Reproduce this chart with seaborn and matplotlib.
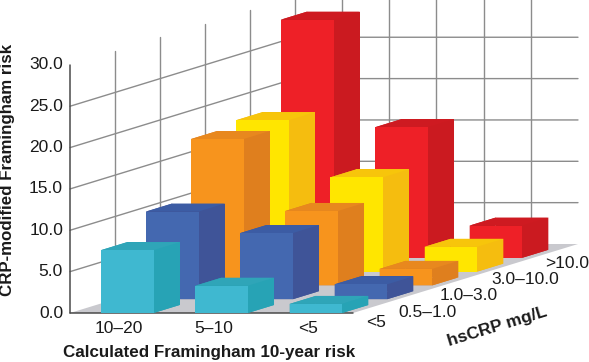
import numpy as np
import matplotlib
matplotlib.use("Agg")
import matplotlib.pyplot as plt
import seaborn as sns
from mpl_toolkits.mplot3d.art3d import Poly3DCollection

# ---- data ----
framingham_labels = ["10–20", "5–10", "<5"]
hscrp_labels = ["<5", "0.5–1.0", "1.0–3.0", "3.0–10.0", ">10.0"]
y_ticks = [0, 5, 10, 15, 20, 25, 30]
risk_lt5 = [7.6, 3.3, 1.1]
risk_05_10 = [10.6, 8.0, 1.8]
risk_10_30 = [17.7, 9.0, 2.0]
risk_30_100 = [18.3, 11.4, 3.0]
risk_gt10 = [28.8, 15.8, 3.9]
series = [risk_lt5, risk_05_10, risk_10_30, risk_30_100, risk_gt10]

# front, side, top colours per hsCRP series
front = ["#3FB8D0", "#4468B0", "#F7941D", "#FFE600", "#EE2027"]
side = ["#27A3B5", "#3F5498", "#DF7F1E", "#F5BD0F", "#CB1A20"]
top = ["#2FA5B8", "#3C5CA4", "#E8881E", "#F7C50B", "#CE1A21"]

W, H = 589, 362
sns.set_theme(style="white", font="Liberation Sans")
fig = plt.figure(figsize=(W / 100, H / 100), dpi=100, facecolor="white")
# square 3-D axes, as wide as the figure and centred on it
ax = fig.add_axes([0, (H - W) / 2 / H, 1, W / H], projection="3d")
ax.set_proj_type("ortho")
ax.set_xticks([])
ax.set_yticks([])
ax.set_zticks([])
ax.set_axis_off()
ax.computed_zorder = False


def oblique_proj():
    """Cabinet projection of (column, row, value) into the axes' 2-D view."""
    (x0, y0), (x1, y1) = ax.viewLim.get_points()
    sx = (x1 - x0) / W
    sy = (y1 - y0) / W
    # pixel position with the square axes centred vertically
    ox, oy = 70.0, 313.0 + (W - H) / 2
    return np.array([
        [94.33 * sx, 45.0 * sx, 0.0, x0 + ox * sx],
        [0.0, 13.8 * sy, 8.27 * sy, y1 - oy * sy],
        [-0.05, 1.0, -0.02, 0.0],
        [0.0, 0.0, 0.0, 1.0],
    ])


ax.get_proj = oblique_proj


def label3d(c, r, z, text, **kw):
    """Place a flat text at a projected (column, row, value) position."""
    X, Y, _, _ = oblique_proj() @ np.array([c, r, z, 1.0])
    ax.text2D(X, Y, text, transform=ax.transData, ha=kw.pop("ha", "center"), va="center",
              fontsize=12.5, color="#1A1A1A", zorder=30, **kw)


n_cols, n_rows = len(framingham_labels), len(hscrp_labels)
z_max = y_ticks[-1]

# floor
floor = Poly3DCollection([[(0, 0, 0), (n_cols, 0, 0), (n_cols, n_rows, 0), (0, n_rows, 0)]],
                         facecolor="#C9C9CE", edgecolor="none", zorder=1)
ax.add_collection3d(floor)

# wall grid
grid_kw = dict(color="#8C8C8C", lw=1.0, zorder=2)
for z in y_ticks[1:-1]:
    ax.plot([0, 0, n_cols], [0, n_rows, n_rows], [z, z, z], **grid_kw)
for r in range(1, n_rows + 1):
    ax.plot([0, 0], [r, r], [0, z_max], **grid_kw)
for c in np.arange(0.5, n_cols, 0.5):
    ax.plot([c, c], [n_rows, n_rows], [0, z_max], **grid_kw)

# axis lines
axis_kw = dict(color="#4A4A4A", lw=1.1, zorder=3)
ax.plot([0, 0], [0, 0], [0, z_max], **axis_kw)
ax.plot([0, n_cols], [0, 0], [0, 0], **axis_kw)

# bars, back row first
bar_w, bar_d, bar_off = 0.557, 0.58, 0.329
for r in reversed(range(n_rows)):
    for c, v in enumerate(series[r]):
        # face order: -Z, +Z, -Y, +Y, -X, +X
        faces = sns.color_palette([side[r], top[r], front[r], side[r], side[r], side[r]])
        ax.bar3d(c + bar_off, r, 0, bar_w, bar_d, v, color=faces, shade=False,
                 linewidth=0, edgecolor="none", zorder=10 + (n_rows - r))

# y tick labels
for z in y_ticks:
    label3d(-0.074, 0, z, f"{z:.1f}", ha="right")

# column labels
for c, lab in enumerate(framingham_labels):
    label3d(c + 0.52, 0, -1.85, lab)

# hsCRP labels, set along the floor's right edge
label_c = [3.24, 3.31, 3.27, 3.40, 3.365]
label_z = [-1.2, -1.55, -1.17, -0.9, -0.63]
for r, lab in enumerate(hscrp_labels):
    label3d(label_c[r], r, label_z[r], lab)

# axis titles
fig.text(209 / W, 1 - 352 / H, "Calculated Framingham 10-year risk", ha="center", va="center",
         fontsize=12.25, fontweight="bold", color="#1A1A1A")
fig.text(8 / W, 1 - 170 / H, "CRP-modified Framingham risk", rotation=90, ha="center", va="center",
         fontsize=12.2, fontweight="bold", color="#1A1A1A")
fig.text(497 / W, 1 - 327 / H, "hsCRP mg/L", rotation=17, ha="center", va="center",
         fontsize=12.5, fontweight="bold", color="#1A1A1A", rotation_mode="anchor")

fig.savefig("out.png", dpi=100, facecolor="white")
